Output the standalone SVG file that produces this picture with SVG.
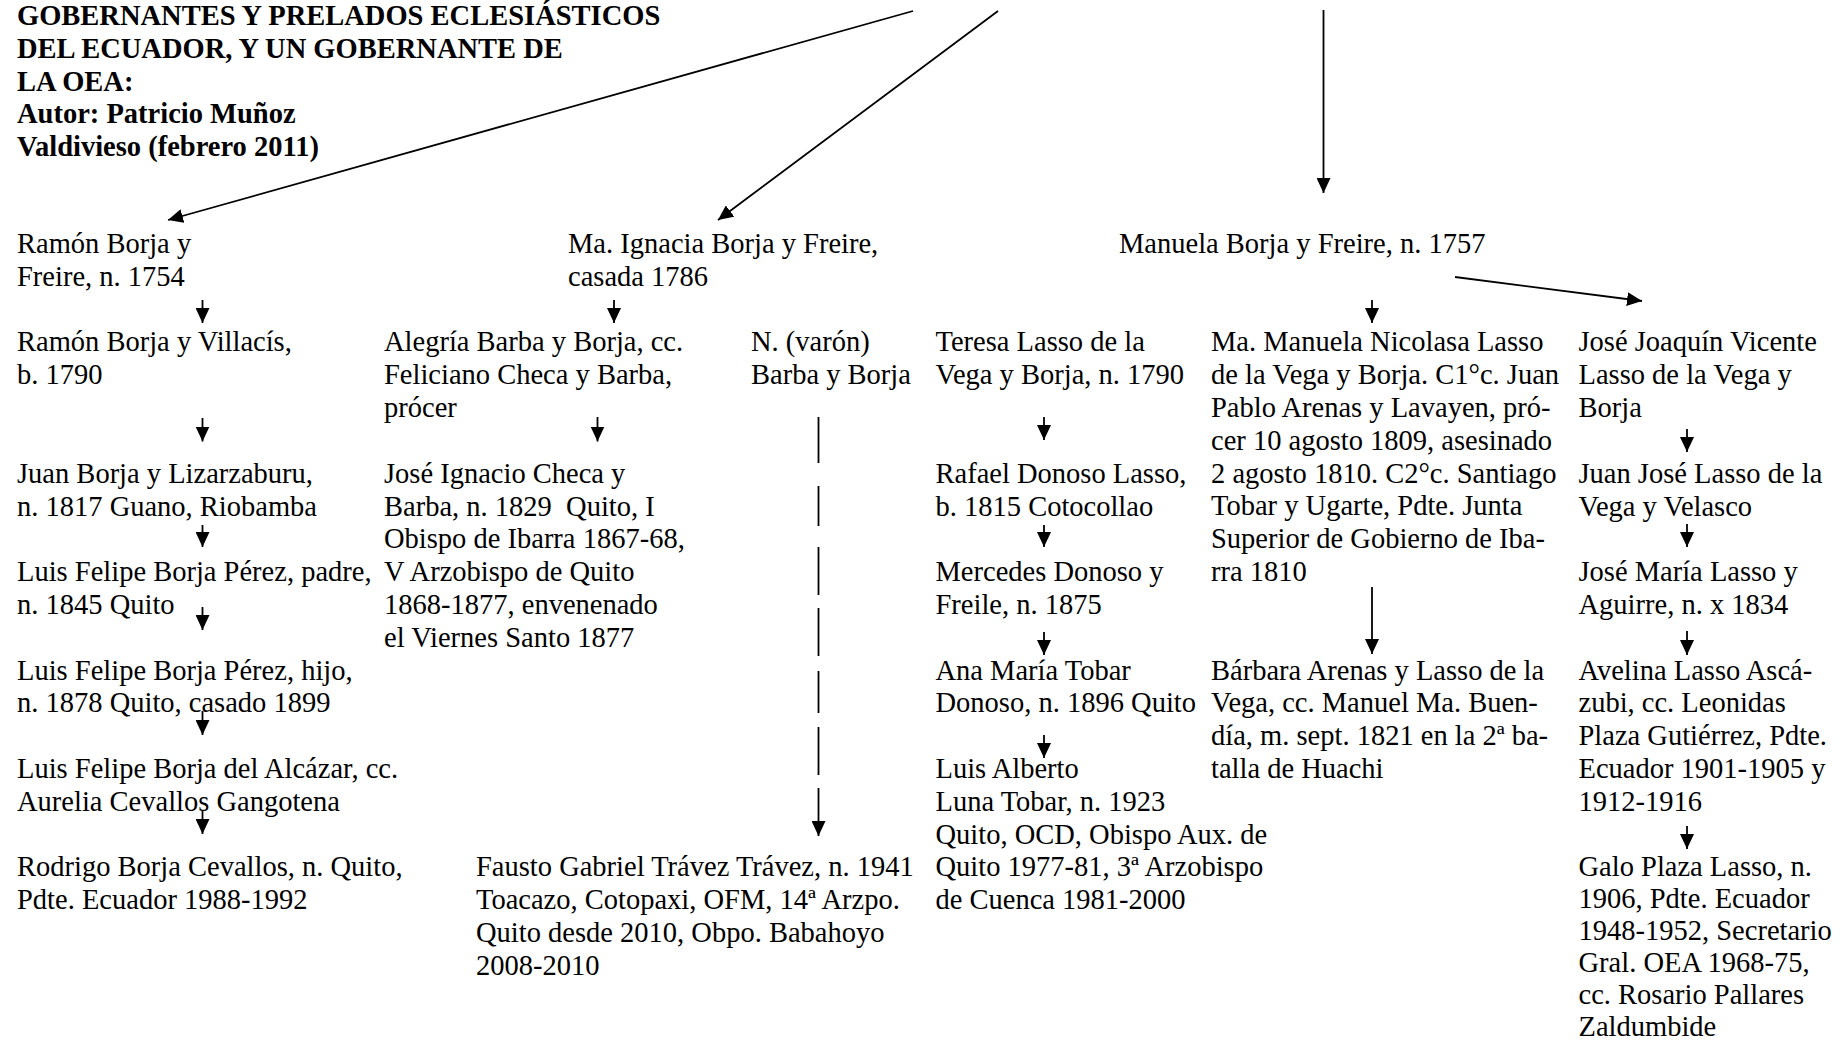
<svg xmlns="http://www.w3.org/2000/svg" width="1847" height="1042" viewBox="0 0 1847 1042">
<defs>
<marker id="ah" markerUnits="userSpaceOnUse" markerWidth="15" markerHeight="14" viewBox="0 0 15 14" refX="15" refY="7" orient="auto"><path d="M0,0 L15,7 L0,14 Z" fill="#000"/></marker>
<style>
text{font-family:"Liberation Serif","Times New Roman",serif;font-size:28.5px;fill:#000}
.t{font-weight:bold}
.c line,.c path{stroke:#000;stroke-width:1.8;fill:none;marker-end:url(#ah)}
</style>
</defs>
<rect width="1847" height="1042" fill="#fff"/>
<g id="title">
<text class="t" x="17" y="25"><tspan x="17">GOBERNANTES Y PRELADOS ECLESIÁSTICOS</tspan><tspan x="17" dy="32.8">DEL ECUADOR, Y UN GOBERNANTE DE</tspan><tspan x="17" dy="32.8">LA OEA:</tspan><tspan x="17" dy="32.8">Autor: Patricio Muñoz</tspan><tspan x="17" dy="32.8">Valdivieso (febrero 2011)</tspan></text>
</g>
<g class="c" id="connectors">
<line x1="913" y1="11" x2="168" y2="220"/>
<line x1="998" y1="11" x2="718" y2="220"/>
<line x1="1323.5" y1="10" x2="1323.5" y2="193"/>
<line x1="1455" y1="277" x2="1642" y2="301"/>
<line x1="202.5" y1="300" x2="202.5" y2="323"/>
<line x1="202.5" y1="418" x2="202.5" y2="441.5"/>
<line x1="202.5" y1="525" x2="202.5" y2="547"/>
<line x1="202.5" y1="607" x2="202.5" y2="630"/>
<line x1="202.5" y1="711" x2="202.5" y2="735"/>
<line x1="202.5" y1="810" x2="202.5" y2="834"/>
<line x1="614" y1="300" x2="614" y2="323"/>
<line x1="597.5" y1="417" x2="597.5" y2="441.5"/>
<path d="M818.5 417 V463 M818.5 486 V526 M818.5 547 V595 M818.5 608 V656 M818.5 671 V713 M818.5 727 V775 M818.5 788 V836"/>
<line x1="1044" y1="417" x2="1044" y2="440"/>
<line x1="1044" y1="525" x2="1044" y2="547"/>
<line x1="1044" y1="632" x2="1044" y2="655"/>
<line x1="1044" y1="735" x2="1044" y2="758"/>
<line x1="1372" y1="300" x2="1372" y2="323"/>
<line x1="1372" y1="587" x2="1372" y2="654"/>
<line x1="1687" y1="429" x2="1687" y2="452"/>
<line x1="1687" y1="524" x2="1687" y2="547"/>
<line x1="1687" y1="631" x2="1687" y2="655"/>
<line x1="1687" y1="826" x2="1687" y2="849"/>
</g>
<g id="n_ramon"><text x="17" y="253"><tspan x="17">Ramón Borja y</tspan><tspan x="17" dy="32.8">Freire, n. 1754</tspan></text></g>
<g id="n_ignacia"><text x="568" y="253"><tspan x="568">Ma. Ignacia Borja y Freire,</tspan><tspan x="568" dy="32.8">casada 1786</tspan></text></g>
<g id="n_manuela"><text x="1119" y="253">Manuela Borja y Freire, n. 1757</text></g>
<g id="n_villacis"><text x="17" y="351.4"><tspan x="17">Ramón Borja y Villacís,</tspan><tspan x="17" dy="32.8">b. 1790</tspan></text></g>
<g id="n_juan"><text x="17" y="482.7"><tspan x="17">Juan Borja y Lizarzaburu,</tspan><tspan x="17" dy="32.8">n. 1817 Guano, Riobamba</tspan></text></g>
<g id="n_lfpadre"><text x="17" y="581.1"><tspan x="17">Luis Felipe Borja Pérez, padre,</tspan><tspan x="17" dy="32.8">n. 1845 Quito</tspan></text></g>
<g id="n_lfhijo"><text x="17" y="679.5"><tspan x="17">Luis Felipe Borja Pérez, hijo,</tspan><tspan x="17" dy="32.8">n. 1878 Quito, casado 1899</tspan></text></g>
<g id="n_lfalcazar"><text x="17" y="778"><tspan x="17">Luis Felipe Borja del Alcázar, cc.</tspan><tspan x="17" dy="32.8">Aurelia Cevallos Gangotena</tspan></text></g>
<g id="n_rodrigo"><text x="17" y="876.4"><tspan x="17">Rodrigo Borja Cevallos, n. Quito,</tspan><tspan x="17" dy="32.8">Pdte. Ecuador 1988-1992</tspan></text></g>
<g id="n_alegria"><text x="384" y="351.4"><tspan x="384">Alegría Barba y Borja, cc.</tspan><tspan x="384" dy="32.8">Feliciano Checa y Barba,</tspan><tspan x="384" dy="32.8">prócer</tspan></text></g>
<g id="n_checa"><text x="384" y="482.7" style="white-space:pre"><tspan x="384">José Ignacio Checa y</tspan><tspan x="384" dy="32.8">Barba, n. 1829  Quito, I</tspan><tspan x="384" dy="32.8">Obispo de Ibarra 1867-68,</tspan><tspan x="384" dy="32.8">V Arzobispo de Quito</tspan><tspan x="384" dy="32.8">1868-1877, envenenado</tspan><tspan x="384" dy="32.8">el Viernes Santo 1877</tspan></text></g>
<g id="n_varon"><text x="751" y="351.4"><tspan x="751">N. (varón)</tspan><tspan x="751" dy="32.8">Barba y Borja</tspan></text></g>
<g id="n_fausto"><text x="476" y="876.4"><tspan x="476">Fausto Gabriel Trávez Trávez, n. 1941</tspan><tspan x="476" dy="32.8">Toacazo, Cotopaxi, OFM, 14ª Arzpo.</tspan><tspan x="476" dy="32.8">Quito desde 2010, Obpo. Babahoyo</tspan><tspan x="476" dy="32.8">2008-2010</tspan></text></g>
<g id="n_teresa"><text x="935.5" y="351.4"><tspan x="935.5">Teresa Lasso de la</tspan><tspan x="935.5" dy="32.8">Vega y Borja, n. 1790</tspan></text></g>
<g id="n_rafael"><text x="935.5" y="482.7"><tspan x="935.5">Rafael Donoso Lasso,</tspan><tspan x="935.5" dy="32.8">b. 1815 Cotocollao</tspan></text></g>
<g id="n_mercedes"><text x="935.5" y="581.1"><tspan x="935.5">Mercedes Donoso y</tspan><tspan x="935.5" dy="32.8">Freile, n. 1875</tspan></text></g>
<g id="n_anamaria"><text x="935.5" y="679.5"><tspan x="935.5">Ana María Tobar</tspan><tspan x="935.5" dy="32.8">Donoso, n. 1896 Quito</tspan></text></g>
<g id="n_luna"><text x="935.5" y="778"><tspan x="935.5">Luis Alberto</tspan><tspan x="935.5" dy="32.8">Luna Tobar, n. 1923</tspan><tspan x="935.5" dy="32.8">Quito, OCD, Obispo Aux. de</tspan><tspan x="935.5" dy="32.8">Quito 1977-81, 3ª Arzobispo</tspan><tspan x="935.5" dy="32.8">de Cuenca 1981-2000</tspan></text></g>
<g id="n_manuelanicolasa"><text x="1211" y="351.4"><tspan x="1211">Ma. Manuela Nicolasa Lasso</tspan><tspan x="1211" dy="32.8">de la Vega y Borja. C1°c. Juan</tspan><tspan x="1211" dy="32.8">Pablo Arenas y Lavayen, pró-</tspan><tspan x="1211" dy="32.8">cer 10 agosto 1809, asesinado</tspan><tspan x="1211" dy="32.8">2 agosto 1810. C2°c. Santiago</tspan><tspan x="1211" dy="32.8">Tobar y Ugarte, Pdte. Junta</tspan><tspan x="1211" dy="32.8">Superior de Gobierno de Iba-</tspan><tspan x="1211" dy="32.8">rra 1810</tspan></text></g>
<g id="n_barbara"><text x="1211" y="679.5"><tspan x="1211">Bárbara Arenas y Lasso de la</tspan><tspan x="1211" dy="32.8">Vega, cc. Manuel Ma. Buen-</tspan><tspan x="1211" dy="32.8">día, m. sept. 1821 en la 2ª ba-</tspan><tspan x="1211" dy="32.8">talla de Huachi</tspan></text></g>
<g id="n_josejoaquin"><text x="1578.5" y="351.4"><tspan x="1578.5">José Joaquín Vicente</tspan><tspan x="1578.5" dy="32.8">Lasso de la Vega y</tspan><tspan x="1578.5" dy="32.8">Borja</tspan></text></g>
<g id="n_juanjose"><text x="1578.5" y="482.7"><tspan x="1578.5">Juan José Lasso de la</tspan><tspan x="1578.5" dy="32.8">Vega y Velasco</tspan></text></g>
<g id="n_josemaria"><text x="1578.5" y="581.1"><tspan x="1578.5">José María Lasso y</tspan><tspan x="1578.5" dy="32.8">Aguirre, n. x 1834</tspan></text></g>
<g id="n_avelina"><text x="1578.5" y="679.5"><tspan x="1578.5">Avelina Lasso Ascá-</tspan><tspan x="1578.5" dy="32.8">zubi, cc. Leonidas</tspan><tspan x="1578.5" dy="32.8">Plaza Gutiérrez, Pdte.</tspan><tspan x="1578.5" dy="32.8">Ecuador 1901-1905 y</tspan><tspan x="1578.5" dy="32.8">1912-1916</tspan></text></g>
<g id="n_galo"><text x="1578.5" y="875.5"><tspan x="1578.5">Galo Plaza Lasso, n.</tspan><tspan x="1578.5" dy="32">1906, Pdte. Ecuador</tspan><tspan x="1578.5" dy="32">1948-1952, Secretario</tspan><tspan x="1578.5" dy="32">Gral. OEA 1968-75,</tspan><tspan x="1578.5" dy="32">cc. Rosario Pallares</tspan><tspan x="1578.5" dy="32">Zaldumbide</tspan></text></g>
</svg>
